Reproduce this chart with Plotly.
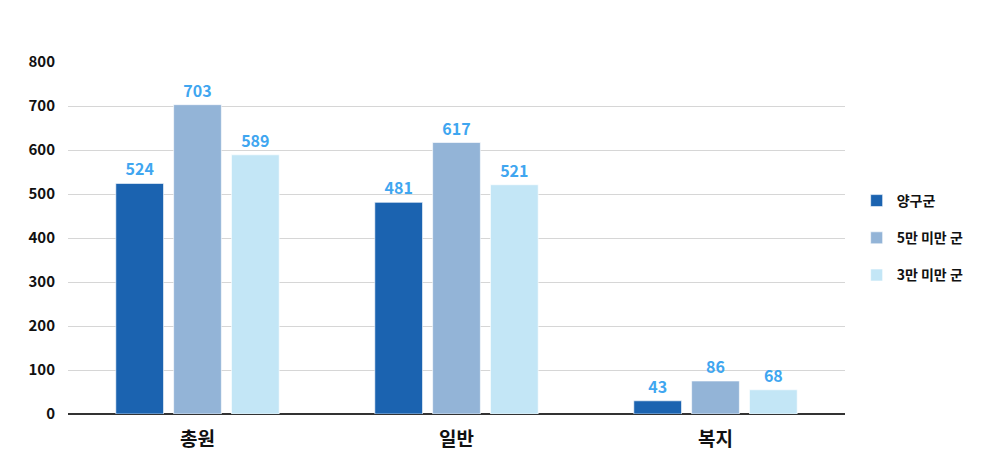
import plotly.graph_objects as go

categories = ["총원", "일반", "복지"]
series_names = ["양구군", "5만 미만 군", "3만 미만 군"]
# heights as drawn in the picture
drawn_values = [
    [524, 481, 30],
    [703, 617, 75],
    [589, 521, 55],
]
# value labels printed on the bars
label_values = [
    [524, 481, 43],
    [703, 617, 86],
    [589, 521, 68],
]
colors = ["#1b63b0", "#93b4d7", "#c3e6f6"]
y_ticks = [0, 100, 200, 300, 400, 500, 600, 700, 800]

FONT = "Noto Sans CJK KR"

fig = go.Figure()
for name, vals, labs, col in zip(series_names, drawn_values, label_values, colors):
    fig.add_trace(go.Bar(
        x=categories, y=vals, name=name,
        text=[str(v) for v in labs], textposition="outside",
        textfont=dict(family=FONT, size=16, color="#3fa6f0", weight="bold"),
        marker=dict(color=col, line=dict(color="rgba(255,255,255,0.6)", width=1)),
        cliponaxis=False,
        legendgroup=name,
    ))

fig.update_layout(
    width=989, height=475,
    margin=dict(l=60, r=152, t=54, b=69),
    paper_bgcolor="white", plot_bgcolor="white",
    barmode="group", bargap=0.33, bargroupgap=0.175,
    font=dict(family=FONT, color="#111"),
    showlegend=True,
    legend=dict(
        x=1.015, y=0.5, xanchor="left", yanchor="middle",
        font=dict(family=FONT, size=14, color="#111", weight="bold"),
        tracegroupgap=16, itemwidth=30,
    ),
)
fig.update_xaxes(
    tickfont=dict(family=FONT, size=19, color="#111", weight="bold"),
    showgrid=False, showline=False, ticks="", ticklabelstandoff=12,
)
fig.update_yaxes(
    range=[0, 800], tickvals=y_ticks,
    tickfont=dict(family=FONT, size=15, color="#111", weight="bold"),
    gridcolor="#d6d6d6", gridwidth=1,
    zeroline=True, zerolinecolor="#333", zerolinewidth=2,
    ticks="", ticklabelstandoff=12,
)

fig.write_html("out.html")
